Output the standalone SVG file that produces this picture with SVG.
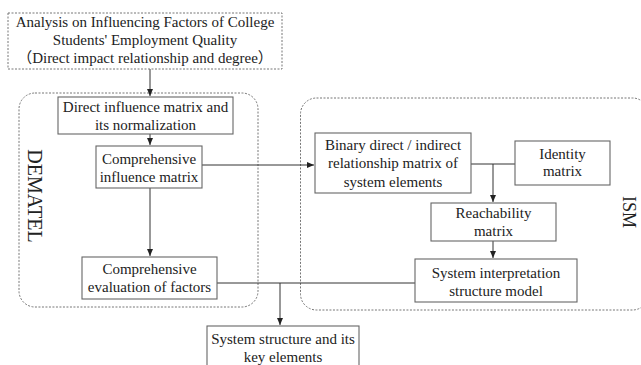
<svg xmlns="http://www.w3.org/2000/svg" width="641" height="365" viewBox="0 0 641 365">
<defs>
<marker id="ah" markerWidth="8" markerHeight="8" refX="7" refY="4" orient="auto" markerUnits="userSpaceOnUse">
<path d="M0,1 L7,4 L0,7 Z" fill="#222"/>
</marker>
<style>
.box{fill:#fff;stroke:#666;stroke-width:1.1}
.dash{fill:none;stroke:#777;stroke-width:1;stroke-dasharray:2,1.5}
.t{font-family:"Liberation Serif","Noto Sans CJK SC",serif;font-size:15px;fill:#222;text-anchor:middle}
.lbl{font-family:"Liberation Serif",serif;font-size:20px;fill:#222;text-anchor:middle}
.ln{fill:none;stroke:#333;stroke-width:1}
</style>
</defs>
<rect width="641" height="365" fill="#fff"/>
<g id="groups">
<rect class="dash" x="19" y="93" width="239" height="214" rx="16"/>
<rect class="dash" x="300.5" y="98" width="348" height="212" rx="16"/>
<text class="lbl" transform="translate(28,196) rotate(90)">DEMATEL</text>
<text class="lbl" style="font-size:18px" transform="translate(623,212) rotate(90)">ISM</text>
</g>
<g id="connectors">
<path class="ln" d="M150,69 V96" marker-end="url(#ah)"/>
<path class="ln" d="M150,134 V145" marker-end="url(#ah)"/>
<path class="ln" d="M150,188 V256" marker-end="url(#ah)"/>
<path class="ln" d="M202,165 H314" marker-end="url(#ah)"/>
<path class="ln" d="M471,164 H515"/>
<path class="ln" d="M493,164 V202" marker-end="url(#ah)"/>
<path class="ln" d="M493,241 V258" marker-end="url(#ah)"/>
<path class="ln" d="M217,283 H415"/>
<path class="ln" d="M280,283 V325" marker-end="url(#ah)"/>
</g>
<g id="n0">
<rect class="dash" x="8" y="13" width="274" height="56"/>
<text class="t" x="145" y="27">Analysis on Influencing Factors of College</text>
<text class="t" x="145" y="45">Students' Employment Quality</text>
<text class="t" x="145" y="63">（Direct impact relationship and degree）</text>
</g>
<g id="n1">
<rect class="box" x="58" y="97" width="175" height="37"/>
<text class="t" x="145.5" y="112">Direct influence matrix and</text>
<text class="t" x="145.5" y="130">its normalization</text>
</g>
<g id="n2">
<rect class="box" x="96" y="146" width="106" height="42"/>
<text class="t" x="149" y="164">Comprehensive</text>
<text class="t" x="149" y="182">influence matrix</text>
</g>
<g id="n3">
<rect class="box" x="82" y="257" width="135" height="42"/>
<text class="t" x="149.5" y="274">Comprehensive</text>
<text class="t" x="149.5" y="292">evaluation of factors</text>
</g>
<g id="n4">
<rect class="box" x="315" y="133" width="156" height="60"/>
<text class="t" x="393" y="150">Binary direct / indirect</text>
<text class="t" x="393" y="168">relationship matrix of</text>
<text class="t" x="393" y="187">system elements</text>
</g>
<g id="n5">
<rect class="box" x="515" y="141" width="95" height="44"/>
<text class="t" x="562.5" y="159">Identity</text>
<text class="t" x="562.5" y="176">matrix</text>
</g>
<g id="n6">
<rect class="box" x="431" y="203" width="125" height="38"/>
<text class="t" x="493.5" y="218">Reachability</text>
<text class="t" x="493.5" y="236">matrix</text>
</g>
<g id="n7">
<rect class="box" x="415" y="259" width="162" height="43"/>
<text class="t" x="496" y="278">System interpretation</text>
<text class="t" x="496" y="296">structure model</text>
</g>
<g id="n8">
<rect class="box" x="207" y="326" width="152" height="45"/>
<text class="t" x="283" y="344">System structure and its</text>
<text class="t" x="283" y="362">key elements</text>
</g>
</svg>
